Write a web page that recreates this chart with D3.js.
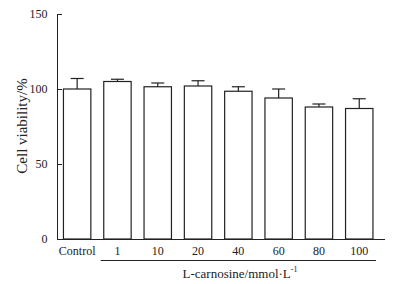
<!DOCTYPE html>
<html>
<head>
    <script src="https://cdn.jsdelivr.net/npm/d3@7"></script>
</head>
<body style="margin:0;background:#fff">
    <style type="text/css">
        text {
            font-family: "Liberation Serif", "DejaVu Serif", serif;
            font-size: 12px;
            fill: #222;
        }
        .axis path,
        .axis line {
            stroke: #222;
            shape-rendering: crispEdges;
        }
        .bar {
            fill: #fff;
            stroke: #222;
            stroke-width: 1.2;
        }
        .err {
            stroke: #222;
            stroke-width: 1.2;
        }
    </style>
    <svg id="chart"></svg>
    <script>
        var groups = ["Control", "1", "10", "20", "40", "60", "80", "100"];
        var viability = [100, 105, 101.5, 102, 98.5, 94, 88, 87];
        var sd = [7, 1.5, 2.5, 3.5, 3, 6, 2, 6.5];
        var yTicks = [0, 50, 100, 150];

        var width = 402,
            height = 284;

        var svg = d3.select("#chart")
            .attr("width", width)
            .attr("height", height);

        var x = d3.scaleBand()
            .domain(groups)
            .range([57, 379.4])
            .paddingInner(0.32)
            .paddingOuter(0.16);

        var y = d3.scaleLinear()
            .domain([0, 150])
            .range([239, 14]);

        // bars
        svg.selectAll(".bar")
            .data(groups)
            .enter()
            .append("rect")
            .attr("class", "bar")
            .attr("x", d => x(d))
            .attr("width", x.bandwidth())
            .attr("y", (d, i) => y(viability[i]))
            .attr("height", (d, i) => y(0) - y(viability[i]));

        // error bars (upper only)
        var err = svg.selectAll(".errg")
            .data(groups)
            .enter()
            .append("g")
            .attr("class", "errg");

        err.append("line")
            .attr("class", "err")
            .attr("x1", d => x(d) + x.bandwidth() / 2)
            .attr("x2", d => x(d) + x.bandwidth() / 2)
            .attr("y1", (d, i) => y(viability[i]))
            .attr("y2", (d, i) => y(viability[i] + sd[i]));

        err.append("line")
            .attr("class", "err")
            .attr("x1", d => x(d) + x.bandwidth() / 2 - 6.5)
            .attr("x2", d => x(d) + x.bandwidth() / 2 + 6.5)
            .attr("y1", (d, i) => y(viability[i] + sd[i]))
            .attr("y2", (d, i) => y(viability[i] + sd[i]));

        // y axis, ticks inward
        var yAxis = d3.axisLeft(y)
            .tickValues(yTicks)
            .tickSize(-4)
            .tickPadding(10)
            .tickSizeOuter(0);

        var ga = svg.append("g")
            .attr("class", "axis")
            .attr("transform", "translate(57.5,0)")
            .call(yAxis);
        ga.select(".domain").remove();
        ga.append("line")
            .attr("x1", 0).attr("x2", 0)
            .attr("y1", y(150)).attr("y2", y(0));

        // x axis baseline
        svg.append("line")
            .attr("x1", 57)
            .attr("x2", 385)
            .attr("y1", y(0) + 0.5)
            .attr("y2", y(0) + 0.5)
            .attr("stroke", "#222")
            .attr("stroke-width", 1.2);

        // category labels
        svg.selectAll(".xlab")
            .data(groups)
            .enter()
            .append("text")
            .attr("class", "xlab")
            .attr("text-anchor", "middle")
            .attr("x", d => x(d) + x.bandwidth() / 2)
            .attr("y", 255)
            .text(d => d);

        // bracket under concentrations
        svg.append("line")
            .attr("x1", x("1") - 3)
            .attr("x2", x("100") + x.bandwidth() + 3)
            .attr("y1", 260.5)
            .attr("y2", 260.5)
            .attr("stroke", "#222")
            .attr("stroke-width", 1.2);

        var title = svg.append("text")
            .attr("text-anchor", "middle")
            .attr("x", 240)
            .attr("y", 278)
            .style("font-size", "13px");
        title.append("tspan").text("L-carnosine/mmol\u00b7L");
        title.append("tspan")
            .attr("dy", -6)
            .style("font-size", "8px")
            .text("-1");

        svg.append("text")
            .attr("text-anchor", "middle")
            .attr("transform", "translate(27,126) rotate(-90)")
            .style("font-size", "15px")
            .text("Cell viability/%");
    </script>
</body>
</html>
